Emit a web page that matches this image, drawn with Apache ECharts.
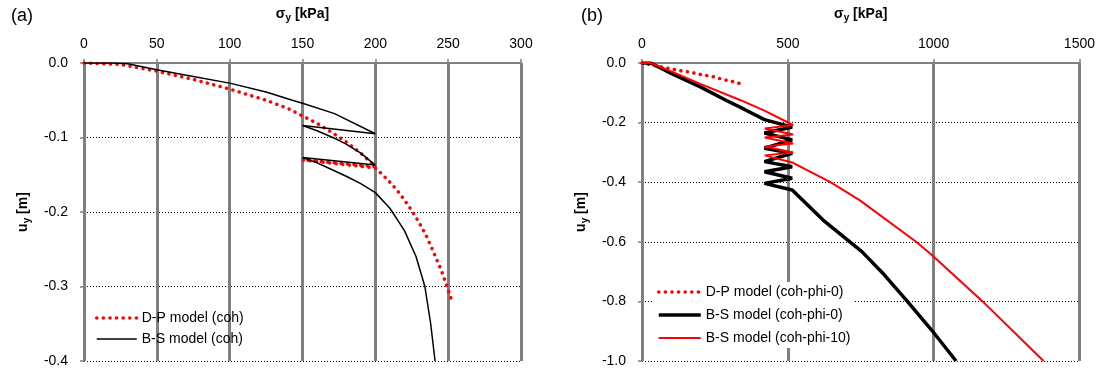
<!DOCTYPE html>
<html><head><meta charset="utf-8">
<script src="https://cdn.jsdelivr.net/npm/echarts@6/dist/echarts.min.js"></script>
<style>html,body{margin:0;padding:0;background:#fff}#c{width:1098px;height:371px}</style>
</head><body><div id="c"></div>
<script>
// ---------- Panel (a) ----------
const aXTicks = [0, 50, 100, 150, 200, 250, 300];
const aYTicks = [0.0, -0.1, -0.2, -0.3, -0.4];
const dpCohX = [0, 25, 50, 75, 100, 125, 140, 150, 160, 170, 180, 190, 200, 150, 200, 205, 210, 215, 220, 225, 230, 235, 240, 245, 248, 251, 252];
const dpCohY = [0, -0.002, -0.011, -0.022, -0.035, -0.05, -0.061, -0.071, -0.081, -0.093, -0.106, -0.121, -0.139, -0.130, -0.141, -0.150, -0.160, -0.171, -0.184, -0.198, -0.214, -0.232, -0.254, -0.277, -0.293, -0.31, -0.316];
const bsCohX = [0, 20, 30, 50, 75, 100, 125, 143, 150, 172, 200, 150, 160, 172, 180, 190, 200, 150, 160, 170, 180, 190, 200, 210, 220, 228, 234, 238, 241];
const bsCohY = [0, 0, -0.001, -0.009, -0.018, -0.027, -0.039, -0.05, -0.054, -0.068, -0.095, -0.084, -0.091, -0.101, -0.109, -0.121, -0.137, -0.127, -0.134, -0.143, -0.152, -0.162, -0.174, -0.195, -0.225, -0.26, -0.30, -0.35, -0.40];
// ---------- Panel (b) ----------
const bXTicks = [0, 500, 1000, 1500];
const bYTicks = [0.0, -0.2, -0.4, -0.6, -0.8, -1.0];
const dpPhi0X = [0, 46, 100, 132, 166, 202, 244, 280, 310, 340];
const dpPhi0Y = [0, -0.009, -0.020, -0.026, -0.031, -0.039, -0.046, -0.056, -0.062, -0.070];
const bsPhi0X = [0, 30, 100, 200, 286, 350, 420, 515, 420, 515, 420, 515, 420, 515, 420, 515, 420, 515, 621, 754, 830, 910, 993, 1077];
const bsPhi0Y = [0, 0, -0.035, -0.08, -0.124, -0.155, -0.19, -0.215, -0.235, -0.258, -0.286, -0.303, -0.331, -0.348, -0.365, -0.387, -0.404, -0.426, -0.527, -0.633, -0.71, -0.80, -0.896, -1.0];
const bsPhi10X = [0, 30, 100, 200, 336, 420, 518, 421, 518, 421, 518, 421, 518, 421, 518, 646, 746, 940, 994, 1168, 1377];
const bsPhi10Y = [0, 0, -0.028, -0.07, -0.124, -0.16, -0.208, -0.22, -0.24, -0.25, -0.27, -0.28, -0.30, -0.31, -0.335, -0.40, -0.46, -0.60, -0.644, -0.80, -1.0];

const zip = (xs, ys) => xs.map((x, i) => [x, ys[i]]);
const FONT = '"Liberation Sans", Arial, sans-serif';
const GRAY = '#808080';
const dotted = { color: '#ff0000', width: 3.5, type: [0.1, 6.5], cap: 'round' };
const thinBlack = { color: '#000', width: 1.5 };
const thickBlack = { color: '#000', width: 3.5 };
const redLine = { color: '#ff0000', width: 2 };

function xAxis(idx, ticks) {
  return {
    type: 'value', gridIndex: idx, position: 'top',
    min: ticks[0], max: ticks[ticks.length - 1], interval: ticks[1] - ticks[0],
    name: '{g|σ}{s|y}{b| [kPa]}', nameLocation: 'middle', nameGap: 40,
    nameTextStyle: { rich: {
      g: { fontFamily: FONT, fontSize: 14, fontWeight: 'bold', color: '#000' },
      s: { fontFamily: FONT, fontSize: 10, fontWeight: 'bold', color: '#000', verticalAlign: 'bottom', padding: [8, 0, 0, 0] },
      b: { fontFamily: FONT, fontSize: 14, fontWeight: 'bold', color: '#000' } } },
    axisLine: { show: true, lineStyle: { color: GRAY, width: 2 } },
    axisTick: { show: true, length: 4, lineStyle: { color: GRAY, width: 1.5 } },
    axisLabel: { fontFamily: FONT, fontSize: 14, color: '#000', margin: 12, formatter: v => String(v) },
    splitLine: { show: true, lineStyle: { color: GRAY, width: 3 } }
  };
}
function yAxis(idx, ticks, gap) {
  return {
    type: 'value', gridIndex: idx,
    min: ticks[ticks.length - 1], max: ticks[0], interval: ticks[0] - ticks[1],
    name: '{b|u}{s|y}{b| [m]}', nameLocation: 'middle', nameGap: gap, nameRotate: 90,
    nameTextStyle: { rich: {
      b: { fontFamily: FONT, fontSize: 14, fontWeight: 'bold', color: '#000' },
      s: { fontFamily: FONT, fontSize: 10, fontWeight: 'bold', color: '#000', padding: [8, 0, 0, 0] } } },
    axisLine: { show: true, onZero: false, lineStyle: { color: GRAY, width: 2 } },
    axisTick: { show: true, length: 4, lineStyle: { color: GRAY, width: 1.5 } },
    axisLabel: { fontFamily: FONT, fontSize: 14, color: '#000', margin: 16,
      formatter: v => (Math.abs(v) < 1e-9 ? 0 : v).toFixed(1) },
    splitLine: { show: true, lineStyle: { color: '#000', width: 1, type: [1, 2] } }
  };
}
const legendCommon = {
  orient: 'vertical', itemHeight: 14, padding: 3,
  itemStyle: { opacity: 0 },
  textStyle: { fontFamily: FONT, fontSize: 14, color: '#000' }
};

const chart = echarts.init(document.getElementById('c'), null, { renderer: 'canvas' });
chart.setOption({
  animation: false,
  backgroundColor: '#fff',
  title: [
    { text: '(a)', left: 6, top: 2, textStyle: { fontFamily: FONT, fontSize: 18, fontWeight: 'normal', color: '#000' } },
    { text: '(b)', left: 576, top: 2, textStyle: { fontFamily: FONT, fontSize: 18, fontWeight: 'normal', color: '#000' } }
  ],
  grid: [
    { left: 84, top: 63, width: 437, height: 298 },
    { left: 642, top: 63, width: 438, height: 298 }
  ],
  xAxis: [xAxis(0, aXTicks), xAxis(1, bXTicks)],
  yAxis: [yAxis(0, aYTicks, 52), yAxis(1, bYTicks, 52)],
  legend: [
    Object.assign({}, legendCommon, { data: [
        { name: 'D-P model (coh)', lineStyle: dotted },
        { name: 'B-S model (coh)', lineStyle: thinBlack }],
      left: 92, top: 308, itemWidth: 40, itemGap: 7 }),
    Object.assign({}, legendCommon, { data: [
        { name: 'D-P model (coh-phi-0)', lineStyle: dotted },
        { name: 'B-S model (coh-phi-0)', lineStyle: thickBlack },
        { name: 'B-S model (coh-phi-10)', lineStyle: redLine }],
      left: 654, top: 282, itemWidth: 42, itemGap: 9, backgroundColor: '#fff' })
  ],
  series: [
    { name: 'D-P model (coh)', type: 'line', xAxisIndex: 0, yAxisIndex: 0, data: zip(dpCohX, dpCohY),
      symbol: 'none', lineStyle: dotted, itemStyle: { color: '#ff0000' } },
    { name: 'B-S model (coh)', type: 'line', xAxisIndex: 0, yAxisIndex: 0, data: zip(bsCohX, bsCohY),
      symbol: 'none', lineStyle: thinBlack, itemStyle: { color: '#000' } },
    { name: 'D-P model (coh-phi-0)', type: 'line', xAxisIndex: 1, yAxisIndex: 1, data: zip(dpPhi0X, dpPhi0Y),
      symbol: 'none', lineStyle: dotted, itemStyle: { color: '#ff0000' } },
    { name: 'B-S model (coh-phi-0)', type: 'line', xAxisIndex: 1, yAxisIndex: 1, data: zip(bsPhi0X, bsPhi0Y),
      symbol: 'none', lineStyle: thickBlack, itemStyle: { color: '#000' } },
    { name: 'B-S model (coh-phi-10)', type: 'line', xAxisIndex: 1, yAxisIndex: 1, data: zip(bsPhi10X, bsPhi10Y),
      symbol: 'none', lineStyle: redLine, itemStyle: { color: '#ff0000' } }
  ]
});
</script></body></html>
